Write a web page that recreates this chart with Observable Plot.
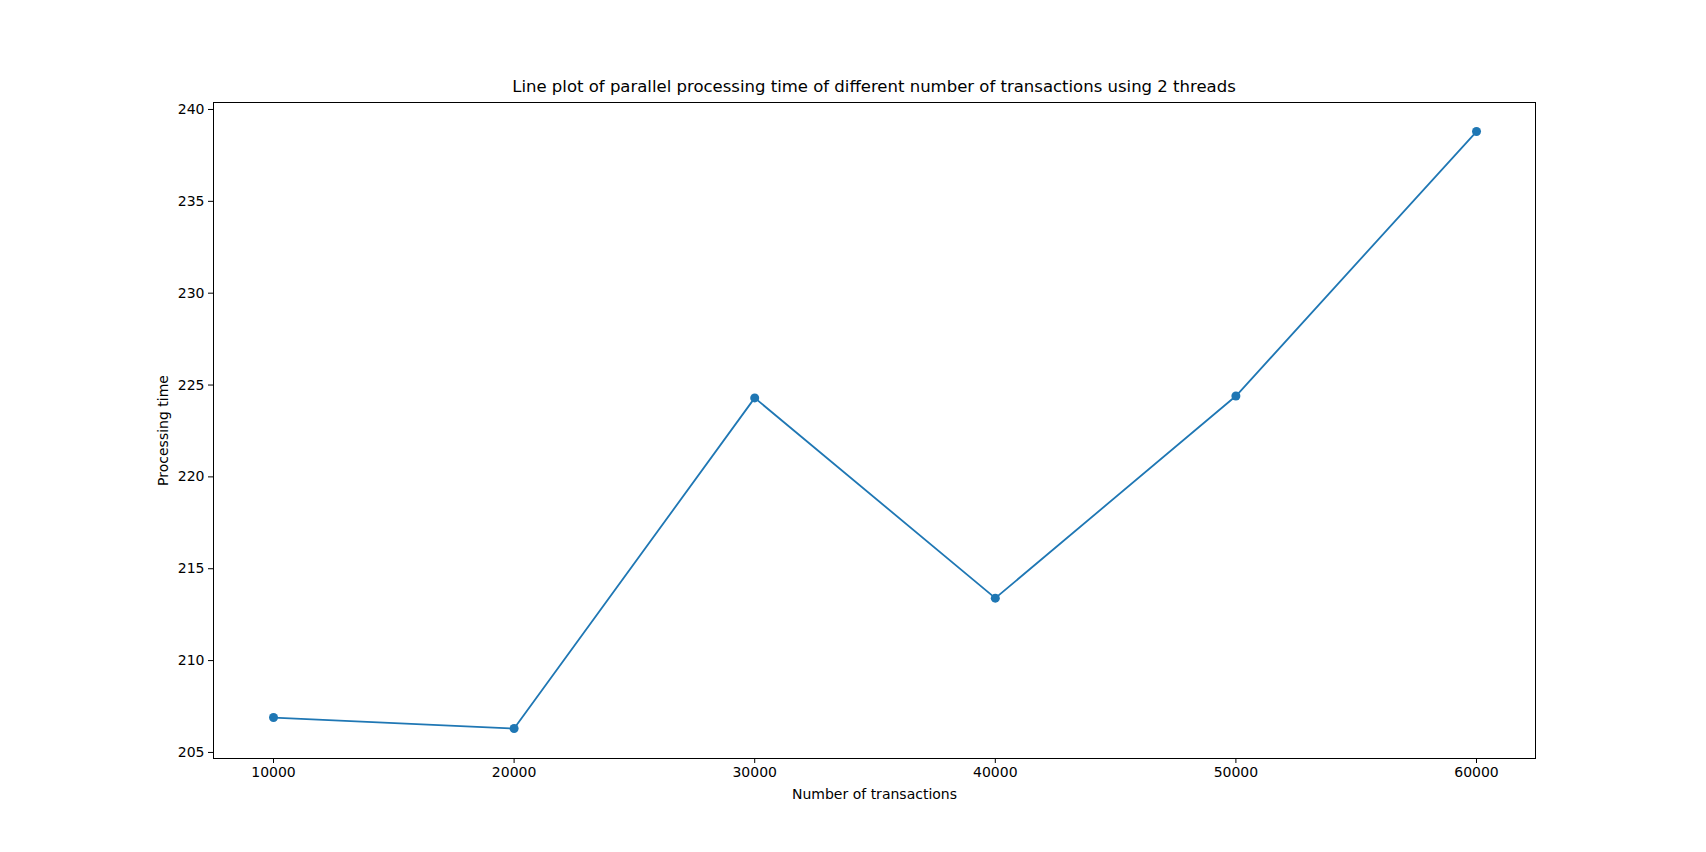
<!DOCTYPE html>
<html><head><meta charset="utf-8">
<script src="https://cdn.jsdelivr.net/npm/d3@7"></script>
<script src="https://cdn.jsdelivr.net/npm/@observablehq/plot@0.6"></script>
<style>
body{margin:0;background:#fff;font-family:"DejaVu Sans",sans-serif;}
#wrap{position:relative;width:1706px;height:852px;}
#title{position:absolute;left:213px;width:1322px;top:77px;text-align:center;font-size:16.5px;}
svg{font-family:"DejaVu Sans",sans-serif;}
</style></head><body>
<div id="wrap"><div id="title">Line plot of parallel processing time of different number of transactions using 2 threads</div></div>
<script>
const transactions = [10000, 20000, 30000, 40000, 50000, 60000];
const times = [206.9, 206.3, 224.3, 213.4, 224.4, 238.8];
const xTicks = [10000, 20000, 30000, 40000, 50000, 60000];
const yTicks = [205, 210, 215, 220, 225, 230, 235, 240];
const data = transactions.map((t, i) => ({t, v: times[i]}));
const chart = Plot.plot({
  width: 1706, height: 852,
  marginLeft: 213, marginRight: 171, marginTop: 102, marginBottom: 94,
  style: {fontSize: "14px", color: "#000"},
  x: {domain: [7506, 62452], ticks: xTicks, tickFormat: d => String(d), label: null},
  y: {domain: [204.67, 240.38], ticks: yTicks, tickFormat: d => String(d), label: null},
  marks: [
    Plot.frame({stroke: "#000"}),
    Plot.axisX({ticks: xTicks, tickFormat: d => String(d), tickSize: 5, tickPadding: 4, label: null}),
    Plot.axisY({ticks: yTicks, tickFormat: d => String(d), tickSize: 5, tickPadding: 4, label: null}),
    Plot.line(data, {x: "t", y: "v", stroke: "#1f77b4", strokeWidth: 1.8}),
    Plot.dot(data, {x: "t", y: "v", fill: "#1f77b4", r: 4.5}),
    Plot.text(["Number of transactions"], {frameAnchor: "bottom", dy: 40, fontSize: 14}),
    Plot.text(["Processing time"], {frameAnchor: "left", textAnchor: "middle", dx: -50, rotate: -90, fontSize: 14})
  ]
});
document.getElementById("wrap").prepend(chart);
</script>
</body></html>
